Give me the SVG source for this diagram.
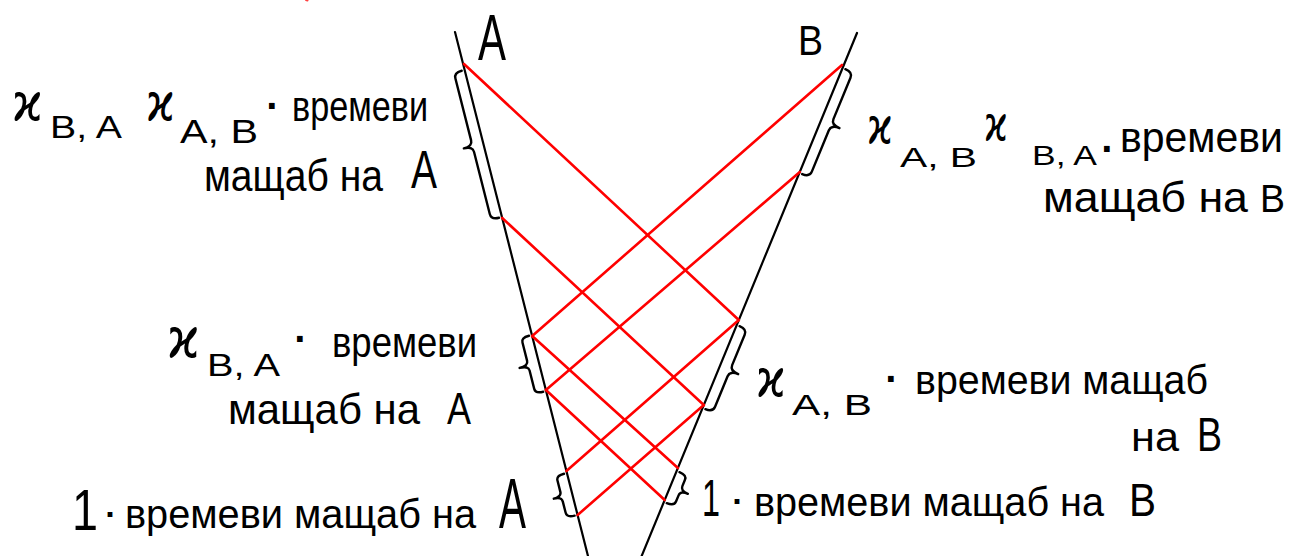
<svg xmlns="http://www.w3.org/2000/svg" width="1306" height="556" viewBox="0 0 1306 556">
<style>
  text { font-family: "Liberation Sans", "DejaVu Sans", sans-serif; fill: #000; }
  .k { font-family: "DejaVu Sans", sans-serif; }
  .dot { font-weight: bold; text-anchor: middle; }
  .ax { stroke: #000; stroke-width: 2.2; fill: none; stroke-linecap: round; }
  .sig { stroke: #ff0000; stroke-width: 2.6; stroke-linecap: round; fill: none; }
  .br { stroke: #000; stroke-width: 2.4; fill: none; stroke-linecap: round; stroke-linejoin: round; }
</style>
<rect width="1306" height="556" fill="#fff"/>

<g id="worldlines">
  <line class="ax" x1="455" y1="32" x2="589" y2="560"/>
  <line class="ax" x1="857" y1="33" x2="640" y2="560"/>
</g>

<g id="connectors">
  <line class="sig" x1="464" y1="64" x2="738.8" y2="320"/>
  <line class="sig" x1="502.2" y1="218" x2="703.8" y2="405"/>
  <line class="sig" x1="532.2" y1="336" x2="677.9" y2="468"/>
  <line class="sig" x1="545.9" y1="390" x2="664.7" y2="500"/>
  <line class="sig" x1="842" y1="65" x2="532.2" y2="336"/>
  <line class="sig" x1="799.8" y1="172" x2="545.9" y2="390"/>
  <line class="sig" x1="738.8" y1="320" x2="566.4" y2="471"/>
  <line class="sig" x1="703.8" y1="405" x2="577.6" y2="515"/>
  <line x1="306" y1="0" x2="307.5" y2="0.5" stroke="#ff4040" stroke-width="2" stroke-linecap="round"/>
</g>

<g id="braces">
  <path class="br" transform="translate(464.6,70) rotate(-14.24)" d="M -3,0 Q -11,0 -11,6 L -11,69.8 Q -11,75.8 -20,75.8 Q -11,75.8 -11,81.8 L -11,145.7 Q -11,151.7 -3,151.7"/>
  <path class="br" transform="translate(842.6,68) rotate(22.38)" d="M 3,0 Q 11,0 11,6 L 11,50.8 Q 11,56.8 20,56.8 Q 11,56.8 11,62.8 L 11,107.5 Q 11,113.5 3,113.5"/>
  <path class="br" transform="translate(531.9,335) rotate(-14.24)" d="M -3,0 Q -11,0 -11,5 L -11,23.9 Q -11,28.9 -20,28.9 Q -11,28.9 -11,33.9 L -11,52.8 Q -11,57.8 -3,57.8"/>
  <path class="br" transform="translate(736.8,325) rotate(22.38)" d="M 3,0 Q 11,0 11,6 L 11,38.9 Q 11,44.9 20,44.9 Q 11,44.9 11,50.9 L 11,83.8 Q 11,89.8 3,89.8"/>
  <path class="br" transform="translate(566.9,473) rotate(-14.24)" d="M -3,0 Q -11,0 -11,5 L -11,16.7 Q -11,21.7 -19,21.7 Q -11,21.7 -11,26.7 L -11,38.3 Q -11,43.3 -3,43.3"/>
  <path class="br" transform="translate(676.7,471) rotate(22.38)" d="M 3,0 Q 11,0 11,5 L 11,11.8 Q 11,16.8 19,16.8 Q 11,16.8 11,21.8 L 11,28.5 Q 11,33.5 3,33.5"/>
</g>

<g id="label-A">
  <text x="478" y="60" font-size="64" textLength="28" lengthAdjust="spacingAndGlyphs">A</text>
</g>
<g id="label-B">
  <text x="798" y="55" font-size="42" textLength="25" lengthAdjust="spacingAndGlyphs">B</text>
</g>

<g id="label-top-left">
  <text class="k" x="12" y="120" font-size="52" textLength="31" lengthAdjust="spacingAndGlyphs">ϰ</text>
  <text x="50" y="138" font-size="32" textLength="72" lengthAdjust="spacingAndGlyphs">B, A</text>
  <text class="k" x="146" y="120" font-size="52" textLength="29" lengthAdjust="spacingAndGlyphs">ϰ</text>
  <text x="180" y="143" font-size="34" textLength="78" lengthAdjust="spacingAndGlyphs">A, B</text>
  <text class="dot" x="273" y="120" font-size="40">·</text>
  <text x="292" y="121" font-size="42" textLength="136" lengthAdjust="spacingAndGlyphs">времеви</text>
  <text x="204" y="191" font-size="44" textLength="179" lengthAdjust="spacingAndGlyphs">мащаб на</text>
  <text x="411" y="188" font-size="53" textLength="26" lengthAdjust="spacingAndGlyphs">A</text>
</g>

<g id="label-top-right">
  <text class="k" x="867" y="143" font-size="50" textLength="26" lengthAdjust="spacingAndGlyphs">ϰ</text>
  <text x="900" y="167" font-size="28" textLength="77" lengthAdjust="spacingAndGlyphs">A, B</text>
  <text class="k" x="984" y="140" font-size="48" textLength="24" lengthAdjust="spacingAndGlyphs">ϰ</text>
  <text x="1032" y="165" font-size="28" textLength="65" lengthAdjust="spacingAndGlyphs">B, A</text>
  <text class="dot" x="1108" y="163" font-size="40">·</text>
  <text x="1120" y="152" font-size="42" textLength="163" lengthAdjust="spacingAndGlyphs">времеви</text>
  <text x="1043" y="212" font-size="42" textLength="205" lengthAdjust="spacingAndGlyphs">мащаб на</text>
  <text x="1260" y="212" font-size="38" textLength="25" lengthAdjust="spacingAndGlyphs">B</text>
</g>

<g id="label-mid-left">
  <text class="k" x="167" y="357" font-size="56" textLength="33" lengthAdjust="spacingAndGlyphs">ϰ</text>
  <text x="207" y="376" font-size="32" textLength="73" lengthAdjust="spacingAndGlyphs">B, A</text>
  <text class="dot" x="301" y="353" font-size="40">·</text>
  <text x="332" y="357" font-size="42" textLength="145" lengthAdjust="spacingAndGlyphs">времеви</text>
  <text x="228" y="424" font-size="42" textLength="192" lengthAdjust="spacingAndGlyphs">мащаб на</text>
  <text x="447" y="424" font-size="44" textLength="24" lengthAdjust="spacingAndGlyphs">A</text>
</g>

<g id="label-mid-right">
  <text class="k" x="756" y="396" font-size="52" textLength="30" lengthAdjust="spacingAndGlyphs">ϰ</text>
  <text x="792" y="415" font-size="30" textLength="80" lengthAdjust="spacingAndGlyphs">A, B</text>
  <text class="dot" x="892" y="393" font-size="40">·</text>
  <text x="915" y="394" font-size="40" textLength="293" lengthAdjust="spacingAndGlyphs">времеви мащаб</text>
  <text x="1131" y="451" font-size="40" textLength="48" lengthAdjust="spacingAndGlyphs">на</text>
  <text x="1197" y="451" font-size="48" textLength="25" lengthAdjust="spacingAndGlyphs">B</text>
</g>

<g id="label-bottom-left">
  <text x="72" y="530" font-size="58" textLength="26" lengthAdjust="spacingAndGlyphs">1</text>
  <text class="dot" x="111" y="526" font-size="34">·</text>
  <text x="125" y="528" font-size="40" textLength="351" lengthAdjust="spacingAndGlyphs">времеви мащаб на</text>
  <text x="499" y="528" font-size="70" textLength="27" lengthAdjust="spacingAndGlyphs">A</text>
</g>

<g id="label-bottom-right">
  <text x="702" y="516" font-size="52" textLength="18" lengthAdjust="spacingAndGlyphs">1</text>
  <text class="dot" x="738" y="513" font-size="34">·</text>
  <text x="754" y="516" font-size="40" textLength="350" lengthAdjust="spacingAndGlyphs">времеви мащаб на</text>
  <text x="1129" y="516" font-size="46" textLength="27" lengthAdjust="spacingAndGlyphs">B</text>
</g>
</svg>
